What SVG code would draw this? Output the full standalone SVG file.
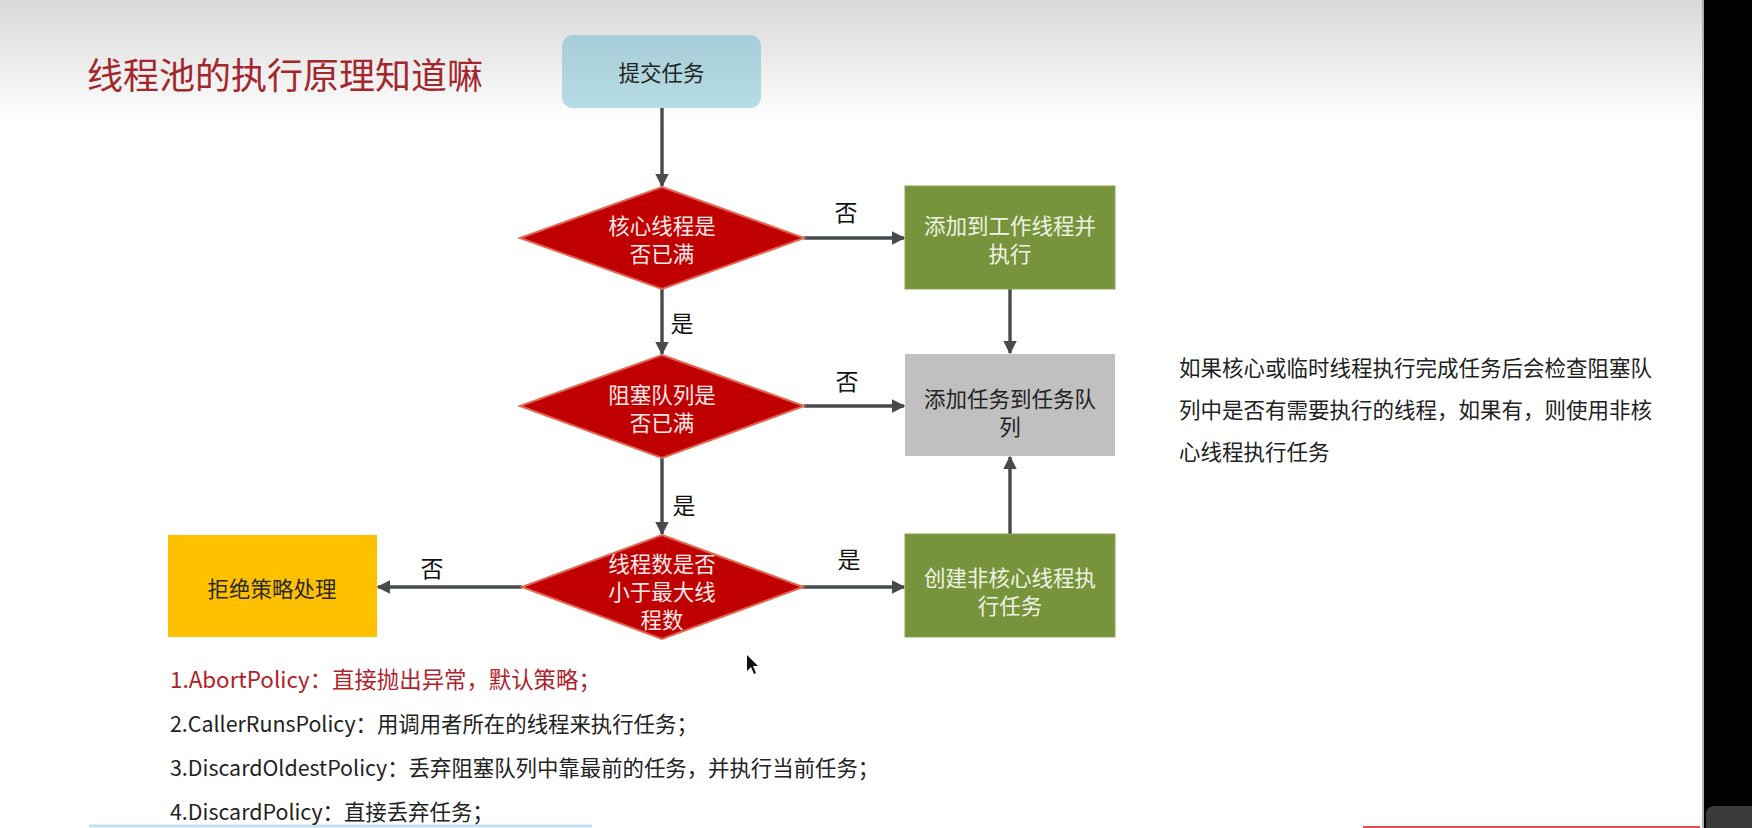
<svg xmlns="http://www.w3.org/2000/svg" width="1752" height="828" viewBox="0 0 1752 828">
<defs>
<linearGradient id="bg" x1="0" y1="0" x2="0" y2="1">
<stop offset="0" stop-color="#d9d9d9"/>
<stop offset="1" stop-color="#ffffff"/>
</linearGradient>
<linearGradient id="blue" x1="0" y1="0" x2="0" y2="1">
<stop offset="0" stop-color="#a7ced8"/>
<stop offset="1" stop-color="#b6dde5"/>
</linearGradient>
<marker id="ah" viewBox="0 0 10 10" refX="9" refY="5" markerWidth="4" markerHeight="4" orient="auto" markerUnits="strokeWidth">
<path d="M0,0 L10,5 L0,10 Z" fill="#474b4e"/>
</marker>
<style>
text{font-family:"Noto Sans CJK SC","Noto Sans",sans-serif;dominant-baseline:central}
.dia{fill:#c00000;stroke:#e2664f;stroke-width:2}
.dt{fill:#fbeaea;font-size:21.5px;text-anchor:middle}
.grn{fill:#77933c;stroke:#8aa553;stroke-width:1}
.gt{fill:#eef3e2;font-size:21.5px;text-anchor:middle}
.dk{fill:#222222;font-size:21.5px;text-anchor:middle}
.lbl{fill:#111111;font-size:23px;text-anchor:middle}
.pol{fill:#222222;font-size:21.4px}
.note{fill:#222222;font-size:21.5px}
.con{stroke:#474b4e;stroke-width:3.4;fill:none;marker-end:url(#ah)}
</style>
</defs>
<rect x="0" y="0" width="1752" height="828" fill="#ffffff"/>
<rect x="0" y="0" width="1704" height="125" fill="url(#bg)"/>
<rect x="1704" y="0" width="48" height="828" fill="#000000"/>
<line x1="1703" y1="0" x2="1703" y2="828" stroke="#9a9a9a" stroke-width="1.5"/>
<rect x="1706" y="806" width="52" height="30" rx="8" fill="#3a3a3a"/>
<line x1="89" y1="826" x2="592" y2="826" stroke="#bfe3f0" stroke-width="3"/>
<line x1="1363" y1="827" x2="1700" y2="827" stroke="#e05050" stroke-width="2"/>

<text x="87" y="73" style="font-size:36px;fill:#a3272c">线程池的执行原理知道嘛</text>

<g id="connectors">
<line class="con" x1="662" y1="108" x2="662" y2="186"/>
<line class="con" x1="804" y1="238" x2="904" y2="238"/>
<line class="con" x1="662" y1="289" x2="662" y2="354"/>
<line class="con" x1="1010" y1="289" x2="1010" y2="353"/>
<line class="con" x1="804" y1="406" x2="904" y2="406"/>
<line class="con" x1="662" y1="458" x2="662" y2="534"/>
<line class="con" x1="802" y1="587" x2="904" y2="587"/>
<line class="con" x1="1010" y1="534" x2="1010" y2="457"/>
<line class="con" x1="522" y1="587" x2="378" y2="587"/>
<text class="lbl" x="846" y="211">否</text>
<text class="lbl" x="682" y="322">是</text>
<text class="lbl" x="847" y="380">否</text>
<text class="lbl" x="684" y="504">是</text>
<text class="lbl" x="849" y="558">是</text>
<text class="lbl" x="432" y="567">否</text>
</g>

<g id="submit">
<rect x="562" y="35" width="199" height="73" rx="11" fill="url(#blue)"/>
<text class="dk" x="661.5" y="71">提交任务</text>
</g>

<g id="core-full">
<polygon class="dia" points="662,187 804,238 662,289 520,238"/>
<text class="dt" x="662" y="224">核心线程是</text>
<text class="dt" x="662" y="252">否已满</text>
</g>

<g id="add-worker">
<rect class="grn" x="905" y="186" width="210" height="103"/>
<text class="gt" x="1010" y="224">添加到工作线程并</text>
<text class="gt" x="1010" y="252">执行</text>
</g>

<g id="queue-full">
<polygon class="dia" points="662,355 804,406 662,458 520,406"/>
<text class="dt" x="662" y="393">阻塞队列是</text>
<text class="dt" x="662" y="421">否已满</text>
</g>

<g id="add-queue">
<rect x="905" y="354" width="210" height="102" fill="#c0c0c0"/>
<text class="dk" x="1010" y="397">添加任务到任务队</text>
<text class="dk" x="1010" y="425">列</text>
</g>

<g id="max-threads">
<polygon class="dia" points="662,535 803,587 662,639 522,587"/>
<text class="dt" x="662" y="562">线程数是否</text>
<text class="dt" x="662" y="590">小于最大线</text>
<text class="dt" x="662" y="618">程数</text>
</g>

<g id="create-nc">
<rect class="grn" x="905" y="534" width="210" height="103"/>
<text class="gt" x="1010" y="576">创建非核心线程执</text>
<text class="gt" x="1010" y="604">行任务</text>
</g>

<g id="reject">
<rect x="168" y="535" width="209" height="102" fill="#ffc000"/>
<text class="dk" x="272" y="587" style="fill:#2a2a2a">拒绝策略处理</text>
</g>

<g id="note">
<text class="note" x="1179" y="366">如果核心或临时线程执行完成任务后会检查阻塞队</text>
<text class="note" x="1179" y="408">列中是否有需要执行的线程，如果有，则使用非核</text>
<text class="note" x="1179" y="450">心线程执行任务</text>
</g>

<g id="policies">
<text class="pol" x="170" y="678" style="fill:#b0222a;font-size:22.4px">1.AbortPolicy：直接抛出异常，默认策略；</text>
<text class="pol" x="170" y="722">2.CallerRunsPolicy：用调用者所在的线程来执行任务；</text>
<text class="pol" x="170" y="766">3.DiscardOldestPolicy：丢弃阻塞队列中靠最前的任务，并执行当前任务；</text>
<text class="pol" x="170" y="810">4.DiscardPolicy：直接丢弃任务；</text>
</g>

<polygon points="747,655 747,671 751,667 754,674 756,673 753,666 758,666" fill="#111111"/>
</svg>
